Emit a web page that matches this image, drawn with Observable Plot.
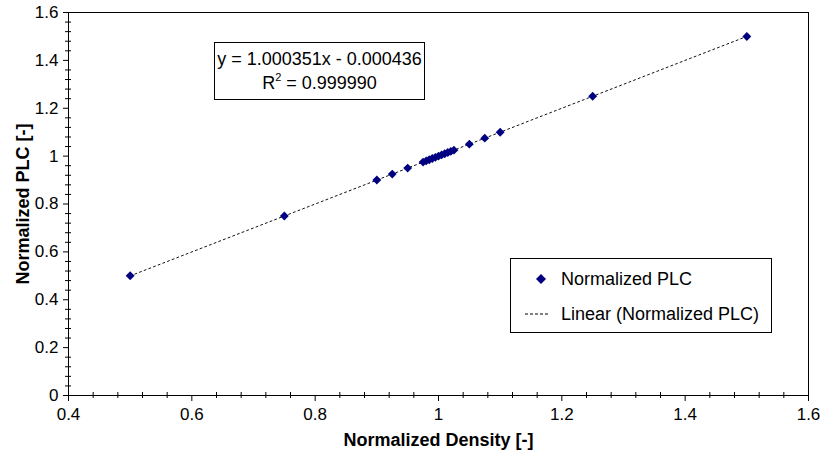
<!DOCTYPE html>
<html><head><meta charset="utf-8">
<script src="https://cdn.jsdelivr.net/npm/d3@7"></script>
<script src="https://cdn.jsdelivr.net/npm/@observablehq/plot@0.6"></script>
<style>
body{margin:0;background:#fff;}
#wrap{position:relative;width:821px;height:454px;font-family:"Liberation Sans",Arial,sans-serif;color:#000;}
#eq{position:absolute;left:214px;top:42px;width:211px;height:58px;border:1px solid #000;background:#fff;font-size:18px;text-align:center;line-height:24px;box-sizing:border-box;padding-top:4px;white-space:nowrap;}
#eq sup{font-size:11px;line-height:0;vertical-align:8px;}
#legend{position:absolute;left:510px;top:258px;width:262px;height:75px;border:1px solid #000;background:#fff;box-sizing:border-box;font-size:18px;}
.row{position:absolute;left:0;height:20px;display:flex;align-items:center;white-space:nowrap;}
.row svg{margin-left:13px;margin-right:11px;}
[aria-label="x-axis label"],[aria-label="y-axis label"]{font-weight:bold;font-size:18px;}
</style></head>
<body><div id="wrap"></div>
<script>
// Data
const density = [0.5, 0.75, 0.9, 0.925, 0.95, 0.975, 0.98, 0.985, 0.99, 0.995, 1.0, 1.005, 1.01, 1.015, 1.02, 1.025, 1.05, 1.075, 1.1, 1.25, 1.5];
const plc     = [0.5, 0.75, 0.9, 0.925, 0.95, 0.975, 0.98, 0.985, 0.99, 0.995, 1.0, 1.005, 1.01, 1.015, 1.02, 1.025, 1.05, 1.075, 1.1, 1.25, 1.5];
const slope = 1.000351, intercept = -0.000436, r2 = "0.999990";
const seriesName = "Normalized PLC";
const trendName = "Linear (Normalized PLC)";
const xTicks = [0.4, 0.6, 0.8, 1.0, 1.2, 1.4, 1.6];
const xTickLabels = ["0.4", "0.6", "0.8", "1", "1.2", "1.4", "1.6"];
const yTicks = [0, 0.2, 0.4, 0.6, 0.8, 1.0, 1.2, 1.4, 1.6];
const yTickLabels = ["0", "0.2", "0.4", "0.6", "0.8", "1", "1.2", "1.4", "1.6"];
const xTitle = "Normalized Density [-]";
const yTitle = "Normalized PLC [-]";

const points = density.map((x, i) => ({x, y: plc[i]}));
const trend = [d3.min(density), d3.max(density)].map(x => ({x, y: slope * x + intercept}));
const xMinor = d3.range(31).filter(i => i % 5).map(i => +(0.4 + i * 0.04).toFixed(2));
const yMinor = d3.range(41).filter(i => i % 5).map(i => +(i * 0.04).toFixed(2));

const chart = Plot.plot({
  width: 821, height: 454,
  marginLeft: 68, marginRight: 13, marginTop: 12, marginBottom: 59,
  x: {domain: [0.4, 1.6]},
  y: {domain: [0, 1.6]},
  style: {fontFamily: "'Liberation Sans', Arial, sans-serif", fontSize: "17px", color: "#000", background: "#fff", overflow: "visible"},
  marks: [
    Plot.line(trend, {x: "x", y: "y", stroke: "#111", strokeWidth: 1, strokeDasharray: "2,3"}),
    Plot.dot(points, {x: "x", y: "y", symbol: "diamond2", r: 4, fill: "#000080", stroke: "none"}),
    Plot.frame({stroke: "#000", strokeWidth: 1}),
    Plot.ruleX(xMinor, {x: d => d, y1: 0, y2: 0, insetTop: -3, insetBottom: -3, stroke: "#000"}),
    Plot.ruleY(yMinor, {y: d => d, x1: 0.4, x2: 0.4, insetLeft: -3, insetRight: -3, stroke: "#000"}),
    Plot.axisX({ticks: xTicks, tickFormat: d => xTickLabels[xTicks.indexOf(d)], tickSize: 6, tickPadding: 6, fontSize: 17,
      label: xTitle, labelAnchor: "center", labelOffset: 50, labelArrow: "none"}),
    Plot.axisY({ticks: yTicks, tickFormat: d => yTickLabels[yTicks.indexOf(d)], tickSize: 5, tickPadding: 5, fontSize: 17,
      label: yTitle, labelAnchor: "center", labelOffset: 52, labelArrow: "none"})
  ]
});
const wrap = document.getElementById("wrap");
wrap.appendChild(chart);

const eq = document.createElement("div");
eq.id = "eq";
eq.innerHTML = `y = ${slope.toFixed(6)}x - ${Math.abs(intercept).toFixed(6)}<br>R<sup>2</sup> = ${r2}`;
wrap.appendChild(eq);

const lg = document.createElement("div");
lg.id = "legend";
lg.innerHTML = `
<div class="row" style="top:10px"><svg width="26" height="12"><path d="M17,1 L22,6 L17,11 L12,6 Z" fill="#000080"/></svg><span>${seriesName}</span></div>
<div class="row" style="top:45px"><svg width="26" height="12"><line x1="1" y1="6" x2="26" y2="6" stroke="#000" stroke-dasharray="3,2"/></svg><span>${trendName}</span></div>`;
wrap.appendChild(lg);
</script>
</body></html>
